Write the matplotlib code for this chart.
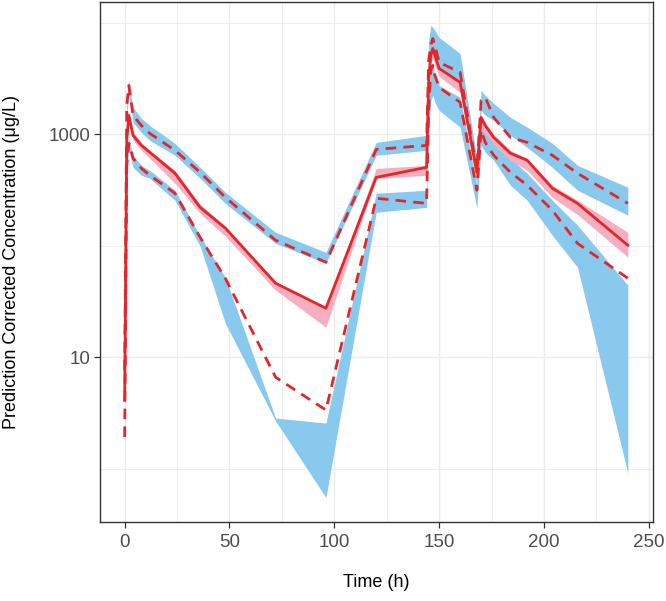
import numpy as np
import matplotlib
matplotlib.use('Agg')
import matplotlib.pyplot as plt

plt.rcParams['font.family'] = ['Liberation Sans', 'DejaVu Sans']

# nominal times (h)
time = [0, 1, 2, 3, 4, 8, 12, 24, 36, 48, 72, 96, 120, 144, 145, 146, 147, 148,
        150, 160, 168, 170, 172, 176, 184, 192, 204, 216, 240]

# observed percentiles (pred-corrected, ug/L)
obs_p95 = [7.6, 1820, 2750, 2020, 1480, 1200, 1020, 719, 456, 272, 112, 71.1, 733, 796,
           4610, 6280, 7260, 6280, 4430, 3600, 475, 2020, 2150, 1420, 940, 847, 649, 447, 240]
obs_p50 = [4.1, 883, 1480, 1200, 980, 796, 690, 447, 221, 144, 46.1, 27.5, 411, 506,
           3050, 5110, 5900, 5110, 3910, 2930, 456, 1420, 1200, 940, 676, 585, 328, 240, 101]
obs_p05 = [1.92, 527, 830, 719, 610, 495, 429, 296, 119, 51.1, 6.6, 3.35, 267, 240,
           1640, 3750, 4160, 3380, 2640, 1940, 315, 1090, 847, 649, 456, 349, 208, 105, 51.1]

# simulated CI of the 95th percentile
sim_p95_lo = [6, 1480, 2240, 1710, 1280, 1040, 883, 649, 403, 240, 105, 69.7, 649, 719,
              3750, 5110, 4910, 4610, 3750, 2750, 349, 1640, 1480, 1340, 980, 764, 506, 315, 188]
sim_p95_hi = [10, 2020, 3050, 2240, 1750, 1390, 1200, 830, 506, 302, 132, 87.4, 847, 980,
              6960, 9500, 9120, 8570, 7410, 5320, 610, 2480, 2240, 1900, 1420, 1160, 830, 527, 335]
# simulated CI of the median
sim_p50_lo = [3.6, 764, 1340, 1090, 883, 719, 610, 364, 195, 122, 39.9, 18.6, 403, 429,
              2750, 4430, 4810, 4160, 3310, 2380, 387, 1160, 1020, 813, 585, 475, 272, 191, 78.9]
sim_p50_hi = [4.6, 940, 1570, 1280, 1060, 847, 719, 475, 236, 150, 47.1, 28.1, 495, 527,
              3380, 5430, 6150, 5320, 4070, 3050, 495, 1480, 1280, 1000, 719, 610, 349, 256, 132]
# simulated CI of the 5th percentile
sim_p05_lo = [1.6, 456, 719, 610, 506, 429, 403, 256, 99, 20.2, 2.67, 0.55, 200, 221,
              1200, 2020, 2240, 1940, 1640, 1160, 217, 796, 690, 585, 349, 256, 124, 64.1, 0.91]
sim_p05_hi = [2.4, 585, 921, 764, 649, 527, 475, 315, 122, 52.1, 2.84, 2.56, 296, 315,
              2240, 3750, 4430, 3380, 2750, 2150, 349, 1200, 1040, 883, 610, 447, 256, 153, 44.3]

blue = '#89C9EE'
pink = '#F4AFC0'
red = '#E3262A'

fig = plt.figure(figsize=(6.66, 6.01), dpi=100)
ax = fig.add_axes([99.5 / 666, 1 - 522 / 601, (653 - 99.5) / 666, 520.5 / 601])

ax.fill_between(time, sim_p95_lo, sim_p95_hi, color=blue, lw=0, zorder=2)
ax.fill_between(time, sim_p05_lo, sim_p05_hi, color=blue, lw=0, zorder=2)
ax.fill_between(time, sim_p50_lo, sim_p50_hi, color=pink, lw=0, zorder=3)

ax.plot(time, obs_p50, color=red, lw=2.0, zorder=4)
ax.plot(time, obs_p95, color=red, lw=2.0, dashes=(3.8, 2.6), zorder=4)
ax.plot(time, obs_p05, color=red, lw=2.0, dashes=(3.8, 2.6), zorder=4)

ax.set_yscale('log')
ax.set_xlim(-12, 252)
ax.set_ylim(10 ** -0.48, 10 ** 4.193)

ax.set_xticks([0, 50, 100, 150, 200, 250])
ax.set_xticks([25, 75, 125, 175, 225], minor=True)
ax.set_yticks([10, 1000])
ax.set_yticklabels(['10', '1000'])
ax.set_yticks([1, 100, 10000], minor=True)
ax.yaxis.set_minor_formatter(plt.NullFormatter())

ax.grid(which='major', color='#EBEBEB', lw=1.0, zorder=0)
ax.grid(which='minor', color='#EBEBEB', lw=0.6, zorder=0)
ax.set_axisbelow(True)

ax.tick_params(which='major', length=4.3, width=0.9, color='#333333',
               labelsize=13.5, labelcolor='#4D4D4D')
ax.tick_params(axis='x', which='major', pad=4)
ax.tick_params(axis='y', which='major', pad=2)
ax.tick_params(which='minor', length=0)
for s in ax.spines.values():
    s.set_color('#333333')
    s.set_linewidth(1.0)

ax.set_xlabel('Time (h)', fontsize=13, labelpad=17)
ax.set_ylabel('Prediction Corrected Concentration (μg/L)', fontsize=13, labelpad=21)

fig.savefig('out.png', dpi=100)
